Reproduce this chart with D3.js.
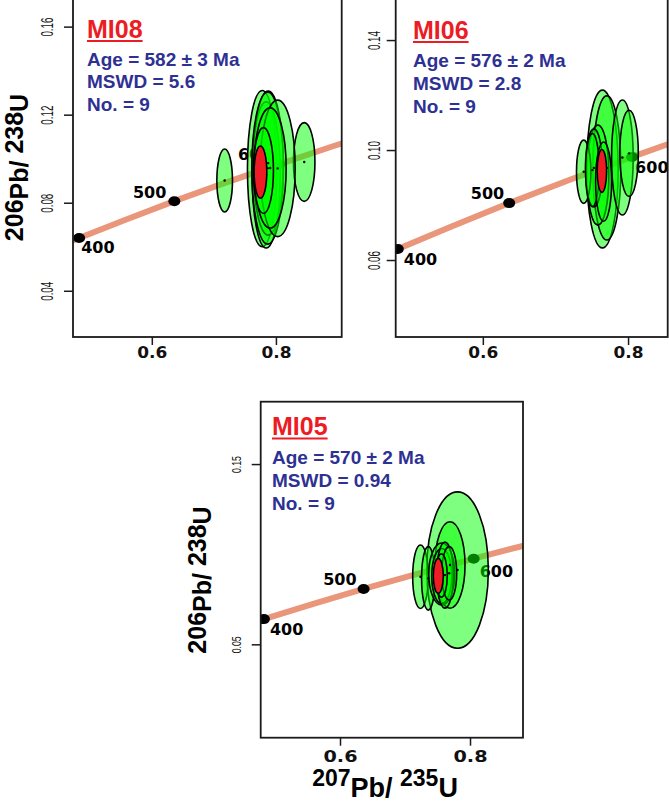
<!DOCTYPE html>
<html><head><meta charset="utf-8">
<script src="https://cdn.jsdelivr.net/npm/d3@7"></script>
<style>body{margin:0;background:#fff}</style>
</head><body>
<svg id="chart" width="669" height="802"></svg>
<script>
// ---------------- DATA ----------------
// Concordia curve (tabulated points, age in Ma)
const concordiaAges = [350, 400, 450, 500, 550, 600, 650, 700, 750];
const concordiaX = [0.4116, 0.4829, 0.5577, 0.6363, 0.7189, 0.8056, 0.8968, 0.9925, 1.0931]; // 207Pb/235U
const concordiaY = [0.0558, 0.0640, 0.0723, 0.0807, 0.0891, 0.0975, 0.1061, 0.1147, 0.1234]; // 206Pb/238U
const markedAges = [400, 500, 600];

// Samples
const sampleNames = ["MI08", "MI06", "MI05"];
const sampleAges = ["582 ± 3", "576 ± 2", "570 ± 2"];
const sampleMswd = ["5.6", "2.8", "0.94"];
const sampleCounts = [9, 9, 9];

// Axis limits and ticks
const xLimits = [[0.473, 0.906], [0.480, 0.8546], [0.478, 0.8815]];
const yLimits = [[0.019, 0.173], [0.032, 0.1553], [-0.0018, 0.1846]];
const xTicks = [0.6, 0.8];
const yTicksMI08 = [0.04, 0.08, 0.12, 0.16];
const yTicksMI06 = [0.06, 0.10, 0.14];
const yTicksMI05 = [0.05, 0.15];

// Analysis error ellipses: [x centre, y centre, x semi-axis, y semi-axis]
const ellipsesMI08 = [
  [0.7174, 0.0901, 0.0126, 0.0143],
  [0.8456, 0.0985, 0.0173, 0.0179],
  [0.7778, 0.0955, 0.0237, 0.0355],
  [0.7843, 0.0926, 0.0226, 0.0332],
  [0.7875, 0.0980, 0.0242, 0.0327],
  [0.7867, 0.0957, 0.0255, 0.0345],
  [0.8028, 0.0956, 0.0282, 0.0310],
  [0.7907, 0.0958, 0.0258, 0.0273],
  [0.7799, 0.0946, 0.0161, 0.0195]
];
const meanMI08 = [0.7751, 0.0939, 0.0102, 0.0119];

const ellipsesMI06 = [
  [0.7647, 0.0931, 0.0217, 0.0287],
  [0.7708, 0.0935, 0.0193, 0.0262],
  [0.7922, 0.0973, 0.0149, 0.0209],
  [0.8014, 0.0988, 0.0127, 0.0157],
  [0.7585, 0.0909, 0.0151, 0.0182],
  [0.7530, 0.0935, 0.0117, 0.0142],
  [0.7389, 0.0921, 0.0099, 0.0115],
  [0.7509, 0.0927, 0.0094, 0.0133],
  [0.7663, 0.0885, 0.0110, 0.0144]
];
const meanMI06 = [0.7640, 0.0924, 0.0065, 0.0078];

const ellipsesMI05 = [
  [0.7808, 0.0912, 0.0474, 0.0434],
  [0.7692, 0.0940, 0.0231, 0.0240],
  [0.7238, 0.0875, 0.0120, 0.0176],
  [0.7358, 0.0866, 0.0103, 0.0176],
  [0.7565, 0.0890, 0.0200, 0.0172],
  [0.7565, 0.0879, 0.0154, 0.0153],
  [0.7615, 0.0884, 0.0128, 0.0183],
  [0.7680, 0.0894, 0.0115, 0.0148],
  [0.7560, 0.0882, 0.0090, 0.0120]
];
const meanMI05 = [0.7512, 0.0880, 0.0077, 0.0097];

const sampleEllipses = [ellipsesMI08, ellipsesMI06, ellipsesMI05];
const sampleMeans = [meanMI08, meanMI06, meanMI05];
const sampleYTicks = [yTicksMI08, yTicksMI06, yTicksMI05];

// ---------------- LAYOUT ----------------
const layout = [
  { frame: [73, -2, 341.7, 337], textX: 87, titleY: 37.5, statY: [65.7, 88.3, 110.7],
    yLabelGap: 20, yLabelFont: 16, yLabelLen: 19, xLabelY: 21, xLabelLen: 30,
    yTitle: { x: 28, y: 167.5, size: 25 }, xTitle: null,
    ageLabels: { 400: [2, 15, "start"], 500: [-8, -3, "end"], 600: [-8, -4, "end"] } },
  { frame: [395.7, -2, 667.7, 337], textX: 413, titleY: 38.5, statY: [66.7, 90, 112.7],
    yLabelGap: 16, yLabelFont: 16, yLabelLen: 19, xLabelY: 21, xLabelLen: 30,
    yTitle: null, xTitle: null,
    ageLabels: { 400: [6, 16, "start"], 500: [-5, -4, "end"], 600: [3, 16, "start"] } },
  { frame: [260.7, 401.7, 523, 737.7], textX: 272, titleY: 435, statY: [464, 487.3, 510],
    yLabelGap: 20, yLabelFont: 13, yLabelLen: 17, xLabelY: 24, xLabelLen: 34,
    yTitle: { x: 211, y: 580, size: 25 }, xTitle: { x: 385, y: 797, size: 27 },
    ageLabels: { 400: [6, 16, "start"], 500: [-7, -4, "end"], 600: [6, 18, "start"] } }
];

const svg = d3.select("#chart");
const sansFont = "'Liberation Sans', Arial, Helvetica, sans-serif";
const boldWide = "'DejaVu Sans', Verdana, sans-serif";

layout.forEach((L, i) => {
  const [fx0, fy0, fx1, fy1] = L.frame;
  const x = d3.scaleLinear().domain(xLimits[i]).range([fx0, fx1]);
  const y = d3.scaleLinear().domain(yLimits[i]).range([fy1, fy0]);
  const g = svg.append("g");

  const clipId = "clip" + i;
  g.append("clipPath").attr("id", clipId).append("rect")
    .attr("x", fx0).attr("y", fy0).attr("width", fx1 - fx0).attr("height", fy1 - fy0);
  const plot = g.append("g").attr("clip-path", `url(#${clipId})`);

  // Concordia
  const pts = concordiaAges.map((a, k) => [concordiaX[k], concordiaY[k]]);
  plot.append("path")
    .attr("d", d3.line().x(d => x(d[0])).y(d => y(d[1])).curve(d3.curveMonotoneX)(pts))
    .attr("fill", "none").attr("stroke", "#e9967a").attr("stroke-width", 6);

  // Age markers
  markedAges.forEach(a => {
    const k = concordiaAges.indexOf(a);
    const px = x(concordiaX[k]), py = y(concordiaY[k]);
    plot.append("ellipse").attr("cx", px).attr("cy", py).attr("rx", 6).attr("ry", 5).attr("fill", "#000");
    const off = L.ageLabels[a];
    plot.append("text").attr("x", px + off[0]).attr("y", py + off[1])
      .attr("text-anchor", off[2]).attr("font-family", boldWide).attr("font-weight", "bold")
      .attr("font-size", 16).attr("fill", "#000").text(a);
  });

  // Ellipses
  const drawEll = (e, fill, op) => {
    const cx = x(e[0]), cy = y(e[1]);
    plot.append("ellipse").attr("cx", cx).attr("cy", cy)
      .attr("rx", Math.abs(x(e[0] + e[2]) - cx)).attr("ry", Math.abs(y(e[1] + e[3]) - cy))
      .attr("fill", fill).attr("fill-opacity", op).attr("stroke", "#000").attr("stroke-width", 1.6);
  };
  sampleEllipses[i].forEach(e => drawEll(e, "#00ff00", 0.5));
  sampleEllipses[i].forEach(e => {
    plot.append("circle").attr("cx", x(e[0])).attr("cy", y(e[1])).attr("r", 1.2).attr("fill", "#000");
  });
  drawEll(sampleMeans[i], "#ee1c24", 1);

  // Frame
  g.append("rect").attr("x", fx0).attr("y", fy0).attr("width", fx1 - fx0).attr("height", fy1 - fy0)
    .attr("fill", "none").attr("stroke", "#1a1a1a").attr("stroke-width", 1.8);

  // X axis
  const xa = g.append("g").attr("transform", `translate(0,${fy1})`)
    .call(d3.axisBottom(x).tickValues(xTicks).tickSize(8).tickFormat(d3.format(".1f")));
  xa.select(".domain").remove();
  xa.selectAll("line").attr("stroke", "#1a1a1a").attr("stroke-width", 1.5);
  xa.selectAll("text").attr("y", L.xLabelY).attr("dy", 0)
    .attr("font-family", boldWide).attr("font-weight", "bold").attr("font-size", 16)
    .attr("fill", "#111").attr("textLength", L.xLabelLen).attr("lengthAdjust", "spacingAndGlyphs");

  // Y axis
  const ya = g.append("g").attr("transform", `translate(${fx0},0)`)
    .call(d3.axisLeft(y).tickValues(sampleYTicks[i]).tickSize(9).tickFormat(d3.format(".2f")));
  ya.select(".domain").remove();
  ya.selectAll("line").attr("stroke", "#1a1a1a").attr("stroke-width", 1.5);
  ya.selectAll("text").attr("transform", "rotate(-90)").attr("x", 0).attr("y", -L.yLabelGap).attr("dy", 0)
    .attr("text-anchor", "middle").attr("font-family", sansFont).attr("font-size", L.yLabelFont)
    .attr("fill", "#111").attr("textLength", L.yLabelLen).attr("lengthAdjust", "spacingAndGlyphs");

  // Sample annotation
  const title = g.append("text").attr("x", L.textX).attr("y", L.titleY)
    .attr("font-family", sansFont).attr("font-weight", "bold").attr("font-size", 25)
    .attr("fill", "#ed1c24").text(sampleNames[i]);
  const tw = title.node().getComputedTextLength();
  g.append("line").attr("x1", L.textX).attr("x2", L.textX + tw)
    .attr("y1", L.titleY + 3.5).attr("y2", L.titleY + 3.5)
    .attr("stroke", "#ed1c24").attr("stroke-width", 2);
  const stats = [`Age = ${sampleAges[i]} Ma`, `MSWD = ${sampleMswd[i]}`, `No. = ${sampleCounts[i]}`];
  stats.forEach((s, k) => {
    g.append("text").attr("x", L.textX).attr("y", L.statY[k])
      .attr("font-family", sansFont).attr("font-weight", "bold").attr("font-size", 19)
      .attr("fill", "#2e3192").text(s);
  });

  // Axis titles
  const addTitle = (t, parts, rotate) => {
    const el = svg.append("text")
      .attr("transform", `translate(${t.x},${t.y})` + (rotate ? " rotate(-90)" : ""))
      .attr("text-anchor", "middle").attr("font-family", sansFont).attr("font-weight", "bold")
      .attr("font-size", t.size).attr("fill", "#000");
    parts.forEach(p => {
      el.append("tspan").attr("dy", p[1]).attr("font-size", p[2] ? t.size - 4 : t.size).text(p[0]);
    });
  };
  if (L.yTitle) addTitle(L.yTitle, [["206", -5, 0], ["Pb/ ", 5, 0], ["238", -5, 0], ["U", 5, 0]], true);
  if (L.xTitle) addTitle(L.xTitle, [["207", -11, 1], ["Pb/ ", 11, 0], ["235", -11, 1], ["U", 11, 0]], false);
});
</script>
</body></html>
